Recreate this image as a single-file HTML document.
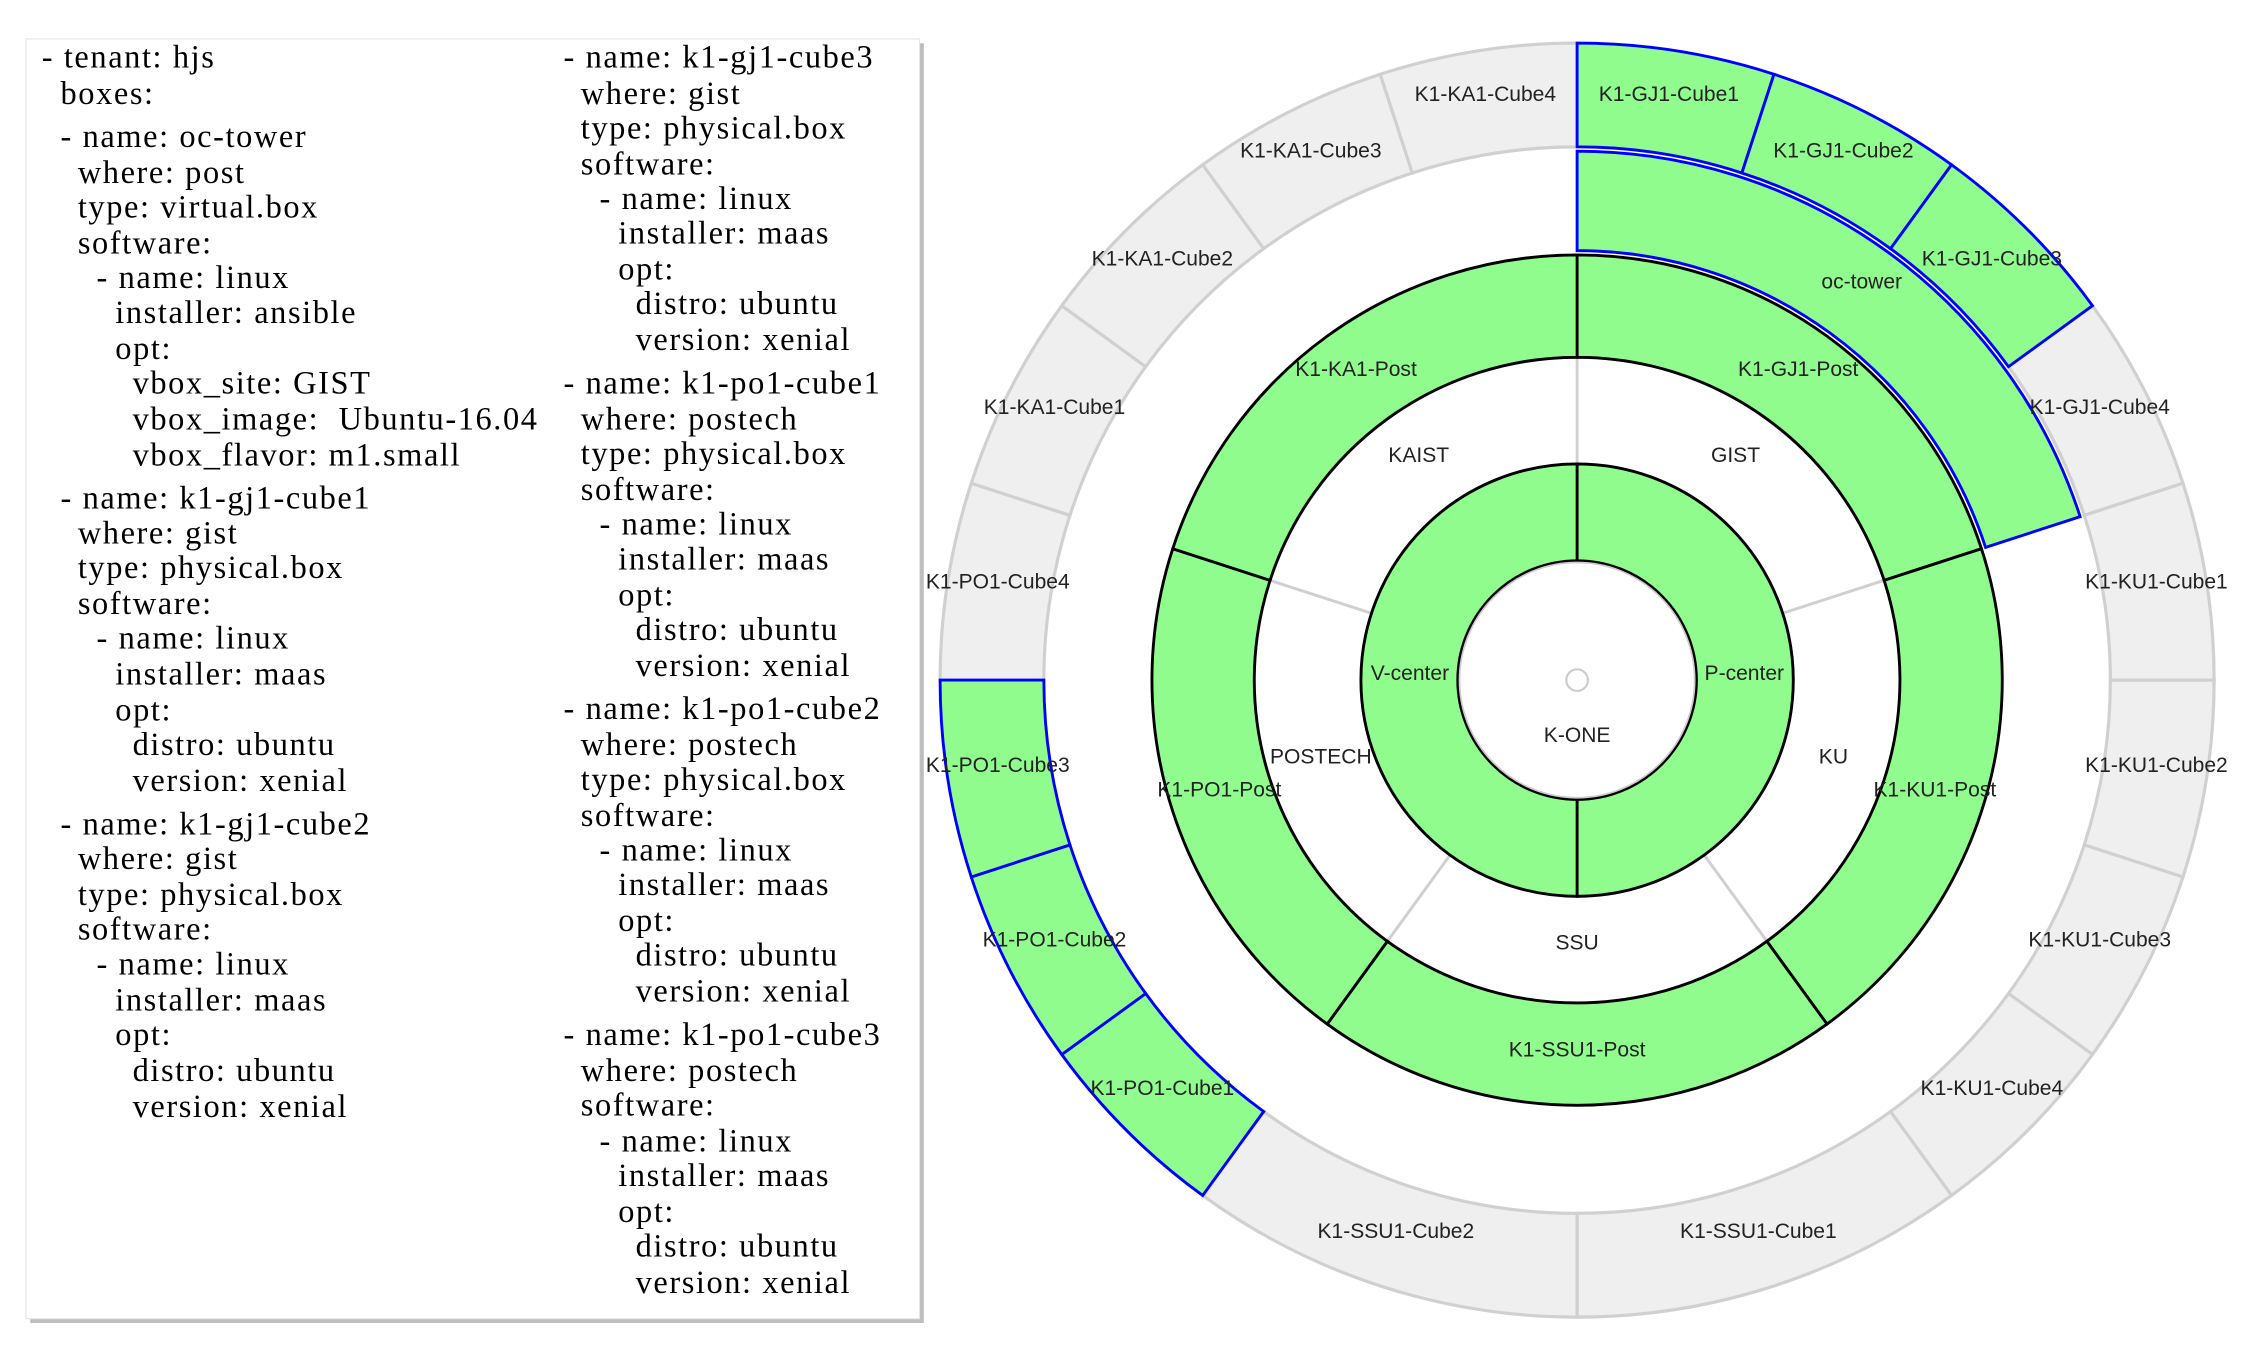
<!DOCTYPE html>
<html><head><meta charset="utf-8"><style>
html,body{margin:0;padding:0;background:#fff;width:2260px;height:1349px;overflow:hidden}
svg{display:block}
.t{font-family:"Liberation Serif",serif;font-size:22.5px;fill:#000;letter-spacing:1.1px}
.l{font-family:"Liberation Sans",sans-serif;font-size:14.6px;fill:#222;text-anchor:middle}
</style></head><body>
<svg width="2260" height="1349" viewBox="0 0 2260 1349" xmlns="http://www.w3.org/2000/svg">
<g transform="scale(1.4412)">
<rect x="21" y="30" width="620" height="888" fill="#bdbdbd"/>
<rect x="18" y="27" width="620" height="888" fill="#fff" stroke="#e6e6e6" stroke-width="0.8"/>
<g class="t">
<text x="29" y="47">- tenant: hjs</text>
<text x="42" y="72">boxes:</text>
<text x="42" y="102">- name: oc-tower</text>
<text x="54" y="127">where: post</text>
<text x="54" y="151">type: virtual.box</text>
<text x="54" y="176">software:</text>
<text x="67" y="200">- name: linux</text>
<text x="80" y="224">installer: ansible</text>
<text x="80" y="249">opt:</text>
<text x="92" y="273">vbox_site: GIST</text>
<text x="92" y="298">vbox_image:&#160; Ubuntu-16.04</text>
<text x="92" y="323">vbox_flavor: m1.small</text>
<text x="42" y="353">- name: k1-gj1-cube1</text>
<text x="54" y="377">where: gist</text>
<text x="54" y="401">type: physical.box</text>
<text x="54" y="426">software:</text>
<text x="67" y="450">- name: linux</text>
<text x="80" y="475">installer: maas</text>
<text x="80" y="500">opt:</text>
<text x="92" y="524">distro: ubuntu</text>
<text x="92" y="549">version: xenial</text>
<text x="42" y="579">- name: k1-gj1-cube2</text>
<text x="54" y="603">where: gist</text>
<text x="54" y="628">type: physical.box</text>
<text x="54" y="652">software:</text>
<text x="67" y="676">- name: linux</text>
<text x="80" y="701">installer: maas</text>
<text x="80" y="725">opt:</text>
<text x="92" y="750">distro: ubuntu</text>
<text x="92" y="775">version: xenial</text>

<text x="391" y="47">- name: k1-gj1-cube3</text>
<text x="403" y="72">where: gist</text>
<text x="403" y="96">type: physical.box</text>
<text x="403" y="121">software:</text>
<text x="416" y="145">- name: linux</text>
<text x="429" y="169">installer: maas</text>
<text x="429" y="194">opt:</text>
<text x="441" y="218">distro: ubuntu</text>
<text x="441" y="243">version: xenial</text>
<text x="391" y="273">- name: k1-po1-cube1</text>
<text x="403" y="298">where: postech</text>
<text x="403" y="322">type: physical.box</text>
<text x="403" y="347">software:</text>
<text x="416" y="371">- name: linux</text>
<text x="429" y="395">installer: maas</text>
<text x="429" y="420">opt:</text>
<text x="441" y="444">distro: ubuntu</text>
<text x="441" y="469">version: xenial</text>
<text x="391" y="499">- name: k1-po1-cube2</text>
<text x="403" y="524">where: postech</text>
<text x="403" y="548">type: physical.box</text>
<text x="403" y="573">software:</text>
<text x="416" y="597">- name: linux</text>
<text x="429" y="621">installer: maas</text>
<text x="429" y="646">opt:</text>
<text x="441" y="670">distro: ubuntu</text>
<text x="441" y="695">version: xenial</text>
<text x="391" y="725">- name: k1-po1-cube3</text>
<text x="403" y="750">where: postech</text>
<text x="403" y="774">software:</text>
<text x="416" y="799">- name: linux</text>
<text x="429" y="823">installer: maas</text>
<text x="429" y="848">opt:</text>
<text x="441" y="872">distro: ubuntu</text>
<text x="441" y="897">version: xenial</text>
</g>

<g transform="translate(1094.3,471.9)">
<g id="arcs"></g>
<circle r="82" fill="#fff" stroke="#ccc" stroke-width="2"/>
<circle r="83" fill="none" stroke="#000" stroke-width="1.6"/>
<circle r="7.5" fill="none" stroke="#ccc" stroke-width="1.5"/>
<g class="l">
<text transform="translate(0,43)">K-ONE</text>
<text transform="rotate(270) translate(0,-116) rotate(-270)">V-center</text>
<text transform="rotate(90) translate(0,-116) rotate(-90)">P-center</text>
<text transform="rotate(36) translate(0,-187) rotate(-36)">GIST</text>
<text transform="rotate(108) translate(0,-187) rotate(-108)">KU</text>
<text transform="rotate(180) translate(0,-187) rotate(-180)">SSU</text>
<text transform="rotate(252) translate(0,-187) rotate(-252)">POSTECH</text>
<text transform="rotate(324) translate(0,-187) rotate(-324)">KAIST</text>
<text transform="rotate(36) translate(0,-261) rotate(-36)">K1-GJ1-Post</text>
<text transform="rotate(108) translate(0,-261) rotate(-108)">K1-KU1-Post</text>
<text transform="rotate(180) translate(0,-261) rotate(-180)">K1-SSU1-Post</text>
<text transform="rotate(252) translate(0,-261) rotate(-252)">K1-PO1-Post</text>
<text transform="rotate(324) translate(0,-261) rotate(-324)">K1-KA1-Post</text>
<text transform="rotate(36) translate(0,-336) rotate(-36)">oc-tower</text>
<text transform="rotate(9) translate(0,-407) rotate(-9)">K1-GJ1-Cube1</text>
<text transform="rotate(27) translate(0,-407) rotate(-27)">K1-GJ1-Cube2</text>
<text transform="rotate(45) translate(0,-407) rotate(-45)">K1-GJ1-Cube3</text>
<text transform="rotate(63) translate(0,-407) rotate(-63)">K1-GJ1-Cube4</text>
<text transform="rotate(81) translate(0,-407) rotate(-81)">K1-KU1-Cube1</text>
<text transform="rotate(99) translate(0,-407) rotate(-99)">K1-KU1-Cube2</text>
<text transform="rotate(117) translate(0,-407) rotate(-117)">K1-KU1-Cube3</text>
<text transform="rotate(135) translate(0,-407) rotate(-135)">K1-KU1-Cube4</text>
<text transform="rotate(162) translate(0,-407) rotate(-162)">K1-SSU1-Cube1</text>
<text transform="rotate(198) translate(0,-407) rotate(-198)">K1-SSU1-Cube2</text>
<text transform="rotate(225) translate(0,-407) rotate(-225)">K1-PO1-Cube1</text>
<text transform="rotate(243) translate(0,-407) rotate(-243)">K1-PO1-Cube2</text>
<text transform="rotate(261) translate(0,-407) rotate(-261)">K1-PO1-Cube3</text>
<text transform="rotate(279) translate(0,-407) rotate(-279)">K1-PO1-Cube4</text>
<text transform="rotate(297) translate(0,-407) rotate(-297)">K1-KA1-Cube1</text>
<text transform="rotate(315) translate(0,-407) rotate(-315)">K1-KA1-Cube2</text>
<text transform="rotate(333) translate(0,-407) rotate(-333)">K1-KA1-Cube3</text>
<text transform="rotate(351) translate(0,-407) rotate(-351)">K1-KA1-Cube4</text>
</g>
</g>
</g>
</svg>
<script>
(function(){
var G="#90fc8e",Y="#efefef",W="#fff",K="#000",B="#0000ff",S="#d0d0d0";
function p(r,a){a=a*Math.PI/180;return (r*Math.sin(a)).toFixed(2)+" "+(-r*Math.cos(a)).toFixed(2);}
function arc(r0,r1,a0,a1){var l=(a1-a0)>180?1:0;
return "M"+p(r1,a0)+"A"+r1+" "+r1+" 0 "+l+" 1 "+p(r1,a1)+"L"+p(r0,a1)+"A"+r0+" "+r0+" 0 "+l+" 0 "+p(r0,a0)+"Z";}
var segs=[];
var i;
var cubes=[[0,18],[18,36],[36,54],[54,72],[72,90],[90,108],[108,126],[126,144],[144,180],[180,216],[216,234],[234,252],[252,270],[270,288],[288,306],[306,324],[324,342],[342,360]];
var blue={0:1,1:1,2:1,10:1,11:1,12:1};
cubes.forEach(function(c,k){if(!blue[k])segs.push([370,442,c[0],c[1],Y,S,2.2]);});
for(i=0;i<5;i++)segs.push([150,224,i*72,i*72+72,W,S,2]);
for(i=0;i<5;i++)segs.push([224,295,i*72,i*72+72,G,K,2]);
segs.push([82,150,0,180,G,K,2]);segs.push([82,150,180,360,G,K,2]);
segs.push([298,367,0,72,G,B,2]);
cubes.forEach(function(c,k){if(blue[k])segs.push([370,442,c[0],c[1],G,B,2]);});
var h="";
segs.forEach(function(s){h+='<path d="'+arc(s[0],s[1],s[2],s[3])+'" fill="'+s[4]+'" stroke="'+s[5]+'" stroke-width="'+s[6]+'" stroke-linejoin="miter"/>';});
document.getElementById("arcs").innerHTML=h;
})();
</script>
</body></html>
